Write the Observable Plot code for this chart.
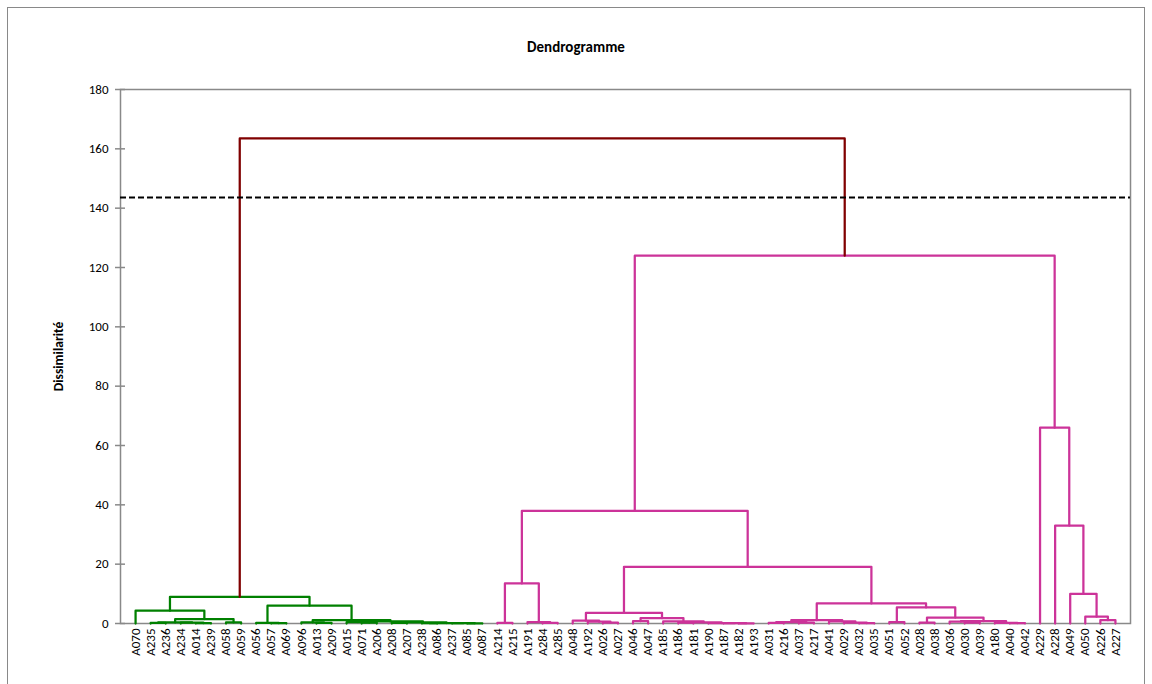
<!DOCTYPE html>
<html><head><meta charset="utf-8">
<script src="https://cdn.jsdelivr.net/npm/d3@7"></script>
<script src="https://cdn.jsdelivr.net/npm/@observablehq/plot@0.6"></script>
<style>
html,body{margin:0;padding:0;background:#fff;overflow:hidden}
#chart{position:relative;width:1152px;height:684px;overflow:hidden;font-family:Carlito,Calibri,Lato,sans-serif;background:#fff}
#plot{position:absolute;left:0;top:0}
#border{position:absolute;left:7px;top:7px;width:1138px;height:700px;border:1.5px solid #898989;box-sizing:border-box;pointer-events:none}
#title{position:absolute;left:0;width:1152px;top:38px;text-align:center;font-weight:bold;font-size:15px;color:#000}
</style></head><body>
<div id="chart"><div id="plot"></div><div id="border"></div><div id="title">Dendrogramme</div></div>
<script>
// Leaf order (x axis tick labels)
const leaves = ["A070","A235","A236","A234","A014","A239","A058","A059","A056","A057","A069","A096","A013","A209","A015","A071","A206","A208","A207","A238","A086","A237","A085","A087","A214","A215","A191","A284","A285","A048","A192","A026","A027","A046","A047","A185","A186","A181","A190","A187","A182","A193","A031","A216","A037","A217","A041","A029","A032","A035","A051","A052","A028","A038","A036","A030","A039","A180","A040","A042","A229","A228","A049","A050","A226","A227"];

// Merges: [id, left, right, dissimilarity]; id prefix g = green cluster, p = pink cluster, r = root
const greenMerges = [
  ["g1","A235","A236",0.2],["g2","A014","A239",0.1],["g3","A234","g2",0.3],["g4","g1","g3",0.35],
  ["g5","A058","A059",0.35],["g6","g4","g5",1.5],["g7","A070","g6",4.3],
  ["g8","A057","A069",0.1],["g9","A056","g8",0.2],["g10","A013","A209",0.2],["g11","A096","g10",0.4],
  ["g12","A071","A206",0.3],["g13","A015","g12",0.5],["g14","A208","A207",0.2],["g15","A238","A086",0.1],
  ["g16","A085","A087",0.05],["g17","A237","g16",0.1],["g18","g15","g17",0.15],["g19","g14","g18",0.35],
  ["g20","g13","g19",0.7],["g21","g11","g20",1.1],["g22","g9","g21",6.0],["g23","g7","g22",9.0]
];
const pinkMerges = [
  ["p1","A214","A215",0.2],["p2","A284","A285",0.2],["p3","A191","p2",0.5],["p4","p1","p3",13.5],
  ["p5","A026","A027",0.3],["p6","A192","p5",0.6],["p7","A048","p6",1.0],["p8","A046","A047",0.8],
  ["p9","A186","A181",0.3],["p10","A182","A193",0.05],["p11","A187","p10",0.1],["p12","A190","p11",0.15],
  ["p13","p9","p12",0.4],["p14","A185","p13",0.7],["p15","p8","p14",1.8],["p16","p7","p15",3.6],
  ["p17","A031","A216",0.2],["p18","A037","A217",0.3],["p19","p17","p18",0.5],["p20","A032","A035",0.1],
  ["p21","A029","p20",0.3],["p22","A041","p21",0.7],["p23","p19","p22",1.1],["p24","A051","A052",0.5],
  ["p25","A028","A038",0.3],["p26","A030","A039",0.3],["p27","A036","p26",0.6],["p28","A040","A042",0.1],
  ["p29","A180","p28",0.2],["p30","p27","p29",0.8],["p31","p25","p30",2.0],["p32","p24","p31",5.4],
  ["p33","p23","p32",6.75],["p34","p16","p33",19.1],["p35","p4","p34",38.0],
  ["p36","A226","A227",1.1],["p37","A050","p36",2.3],["p38","A049","p37",10.0],["p39","A228","p38",33.0],
  ["p40","A229","p39",66.0],["p41","p35","p40",124.0]
];
const rootMerges = [["r1","g23","p41",163.5]];
const cutoff = 143.6;
const yTicks = [0,20,40,60,80,100,120,140,160,180];

const colors = {g:"#008000", p:"#CC3399", r:"#800000"};
const gray = "#898989";
const font = "Carlito, Calibri, Lato, sans-serif";

// compute dendrogram positions
const pos = new Map();
leaves.forEach((name,i)=>pos.set(name,{x:i+1,h:0}));
function buildPaths(list){
  const pts=[];
  for (const [id,a,b,h] of list){
    const A=pos.get(a), B=pos.get(b);
    pos.set(id,{x:(A.x+B.x)/2,h});
    pts.push({id,x:A.x,y:A.h},{id,x:A.x,y:h},{id,x:B.x,y:h},{id,x:B.x,y:B.h});
  }
  return pts;
}
const gPaths = buildPaths(greenMerges);
const pPaths = buildPaths(pinkMerges);
const rPaths = buildPaths(rootMerges);

const W=1152, H=684, mL=120, mR=22, mT=89, mB=61;
const chart = Plot.plot({
  width:W, height:H, marginLeft:mL, marginRight:mR, marginTop:mT, marginBottom:mB,
  x:{domain:[0, leaves.length+1]},
  y:{domain:[0,180]},
  style:{fontFamily:font, fontSize:"13px", color:"#000", background:"transparent", overflow:"visible"},
  marks:[
    Plot.frame({stroke:gray, strokeWidth:1.5}),
    Plot.ruleY(yTicks, {y:d=>d, stroke:gray, strokeWidth:1.5, insetRight:W-mL-mR-10, dx:-5}),
    Plot.axisY({ticks:yTicks, tickSize:0, tickPadding:12, fontSize:13, label:null}),
    Plot.axisX({ticks:d3.range(1, leaves.length+1), tickFormat:i=>leaves[i-1], tickSize:0, tickPadding:5, tickRotate:-90, fontSize:13, label:null}),
    Plot.text(["Dissimilarité"], {text:d=>d, frameAnchor:"left", textAnchor:"middle", dx:-62, rotate:-90, fontWeight:"bold", fontSize:13.5}),
    Plot.line(gPaths, {x:"x", y:"y", z:"id", stroke:colors.g, strokeWidth:2.25, curve:"linear"}),
    Plot.line(pPaths, {x:"x", y:"y", z:"id", stroke:colors.p, strokeWidth:2.25, curve:"linear"}),
    Plot.line(rPaths, {x:"x", y:"y", z:"id", stroke:colors.r, strokeWidth:2.25, curve:"linear"}),
    Plot.ruleY([cutoff], {y:d=>d, stroke:"#000", strokeWidth:2, strokeDasharray:"6,3"})
  ]
});
document.getElementById("plot").appendChild(chart);
</script>
</body></html>
